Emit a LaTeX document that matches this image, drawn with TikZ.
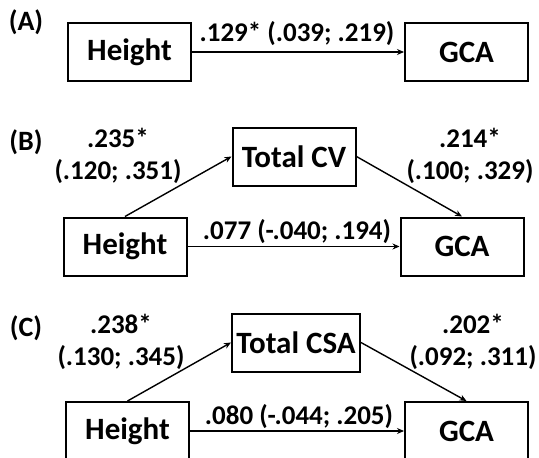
\documentclass[tikz,border=0pt]{standalone}
\usepackage{fontspec}
\setmainfont{Carlito}
\usetikzlibrary{arrows.meta,positioning}

\begin{document}
\begin{tikzpicture}[
  x=1pt, y=-1pt,
  box/.style={draw, line width=2pt, minimum width=123pt, minimum height=58pt, inner sep=2pt, font=\fontsize{31}{37}\selectfont\bfseries},
  coef/.style={align=center, inner sep=1pt, font=\fontsize{27}{32}\selectfont\bfseries},
  panel/.style={inner sep=0pt, font=\fontsize{28}{33}\selectfont\bfseries},
  flow/.style={-{Stealth[length=7pt,width=6pt]}, line width=1.4pt}
]
\clip (0,0) rectangle (539,458);
% (A) total effect
\node[panel] (labA) at (26,22) {(A)};
\node[box] (heightA) at (129.5,52) {Height};
\node[box, right=212pt of heightA] (gcaA) {GCA};
\node[coef] (cA) at (297,34) {.129* (.039; .219)};
\draw[flow] (heightA) -- (gcaA);
% (B) mediation by total CV
\node[panel] (labB) at (26,142) {(B)};
\node[box] (heightB) at (125,246.5) {Height};
\node[box] (cvB) at (294,156.5) {Total CV};
\node[box, right=212pt of heightB] (gcaB) {GCA};
\node[coef] (aB) at (118,156) {.235*\\(.120; .351)};
\node[coef] (bB) at (470,156) {.214*\\(.100; .329)};
\node[coef] (cB) at (297,232) {.077 (-.040; .194)};
\draw[flow] (heightB.north) -- (cvB.west);
\draw[flow] (cvB.east) -- (gcaB.north);
\draw[flow] (heightB) -- (gcaB);
% (C) mediation by total CSA
\node[panel] (labC) at (26,328) {(C)};
\node[box] (heightC) at (127.5,431) {Height};
\node[box, minimum width=128pt] (csaC) at (296,342.5) {Total CSA};
\node[box, right=214pt of heightC] (gcaC) {GCA};
\node[coef] (aC) at (121,342) {.238*\\(.130; .345)};
\node[coef] (bC) at (473,342) {.202*\\(.092; .311)};
\node[coef] (cC) at (299,417) {.080 (-.044; .205)};
\draw[flow] (heightC.north) -- (csaC.west);
\draw[flow] (csaC.east) -- (gcaC.north);
\draw[flow] (heightC) -- (gcaC);
\end{tikzpicture}
\end{document}
